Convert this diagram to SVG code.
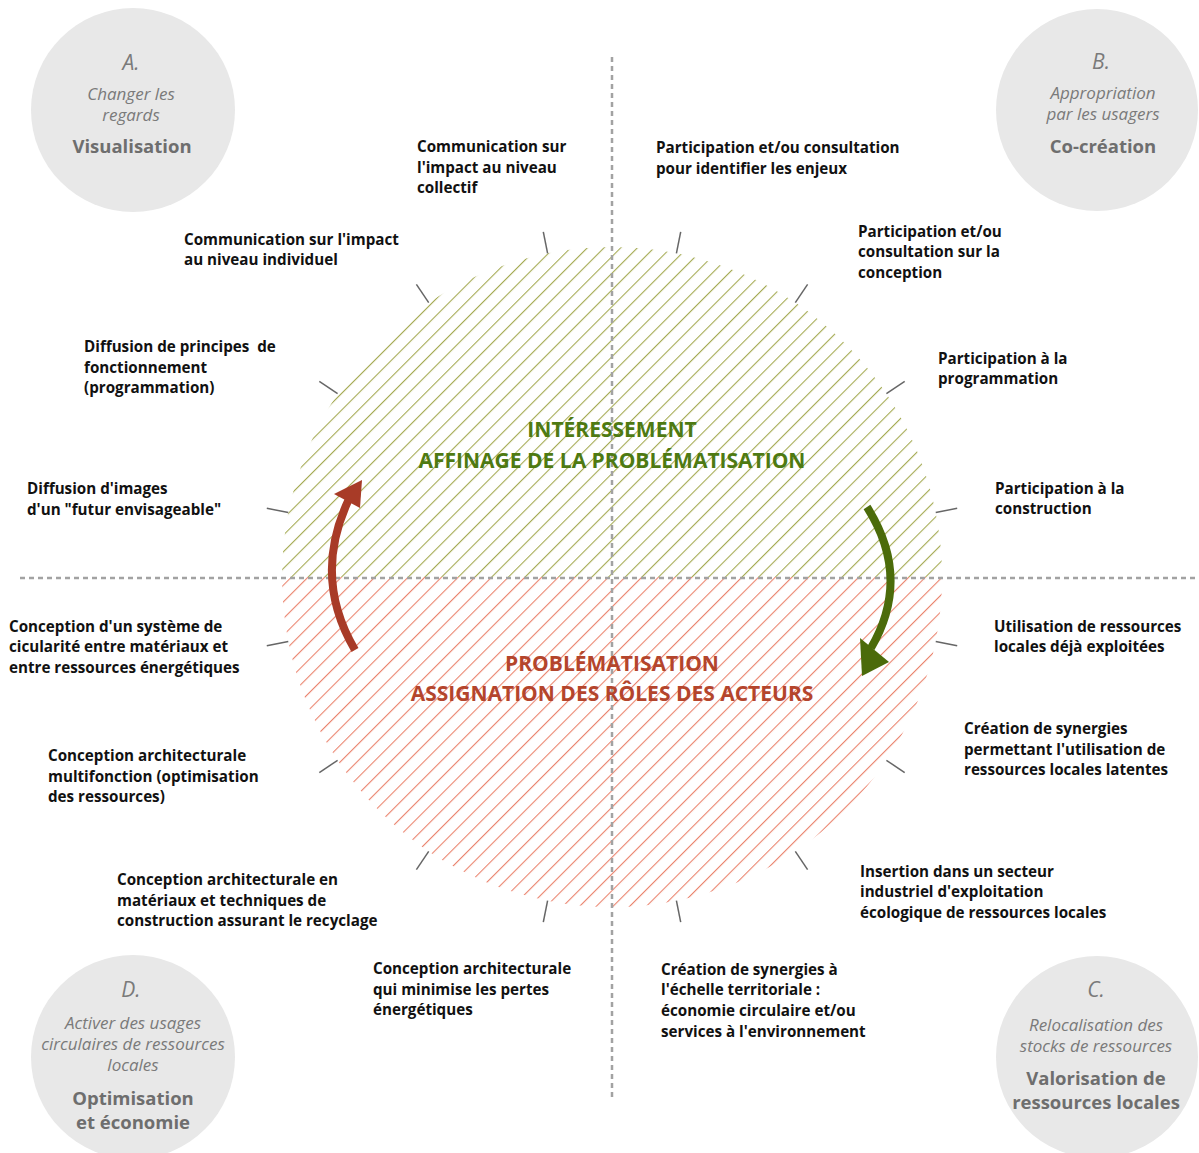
<svg xmlns="http://www.w3.org/2000/svg" width="1199" height="1153" viewBox="0 0 1199 1153">
<style>
.lbl{font-family:"Open Sans","Liberation Sans",sans-serif;font-weight:700;font-size:15.2px;fill:#111}
.cc{fill:#e8e8e8}
.ci{font-family:"Open Sans","Liberation Sans",sans-serif;font-style:italic;fill:#7a7a7a;text-anchor:middle}
.cb{font-family:"Open Sans","Liberation Sans",sans-serif;font-weight:700;fill:#6e6e6e;text-anchor:middle;font-size:18.5px}
.tick{stroke:#666;stroke-width:1.5}
.dash{stroke:#a2a2a2;stroke-width:2.5;stroke-dasharray:5 4;fill:none}
.ttl{font-family:"Open Sans","Liberation Sans",sans-serif;font-weight:700;font-size:21px;text-anchor:middle}
</style>
<defs>
<pattern id="hg" patternUnits="userSpaceOnUse" width="11.8" height="11.8" patternTransform="rotate(45)">
<line x1="0" y1="0" x2="0" y2="11.8" stroke="#a4aa52" stroke-width="2.2"/>
</pattern>
<pattern id="hr" patternUnits="userSpaceOnUse" width="11.8" height="11.8" patternTransform="rotate(45)">
<line x1="0" y1="0" x2="0" y2="11.8" stroke="#ea836d" stroke-width="2.2"/>
</pattern>
<clipPath id="cp"><circle cx="612" cy="577" r="330"/></clipPath>
</defs>
<rect width="1199" height="1153" fill="#fff"/>

<g id="main-circle" clip-path="url(#cp)">
<rect x="280" y="245" width="665" height="332" fill="url(#hg)"/>
<rect x="280" y="577" width="665" height="335" fill="url(#hr)"/>
</g>

<g id="axes">
<line class="dash" x1="20" y1="578" x2="1199" y2="578"/>
<line class="dash" x1="612" y1="57" x2="612" y2="1098"/>
</g>

<g id="title-top">
<text class="ttl" x="612" y="437" fill="#4e7a12">INTÉRESSEMENT</text>
<text class="ttl" x="612" y="468" fill="#4e7a12">AFFINAGE DE LA PROBLÉMATISATION</text>
</g>
<g id="title-bottom">
<text class="ttl" x="612" y="671" fill="#b4452c">PROBLÉMATISATION</text>
<text class="ttl" x="612" y="701" fill="#b4452c">ASSIGNATION DES RÔLES DES ACTEURS</text>
</g>

<g id="connectors">
<line class="tick" x1="547.6" y1="253.3" x2="543.3" y2="231.8"/>
<line class="tick" x1="676.4" y1="253.3" x2="680.7" y2="231.8"/>
<line class="tick" x1="428.7" y1="302.6" x2="416.4" y2="284.3"/>
<line class="tick" x1="795.3" y1="302.6" x2="807.6" y2="284.3"/>
<line class="tick" x1="337.6" y1="393.7" x2="319.3" y2="381.4"/>
<line class="tick" x1="886.4" y1="393.7" x2="904.7" y2="381.4"/>
<line class="tick" x1="288.3" y1="512.6" x2="266.8" y2="508.3"/>
<line class="tick" x1="935.7" y1="512.6" x2="957.2" y2="508.3"/>
<line class="tick" x1="288.3" y1="641.4" x2="266.8" y2="645.7"/>
<line class="tick" x1="935.7" y1="641.4" x2="957.2" y2="645.7"/>
<line class="tick" x1="337.6" y1="760.3" x2="319.3" y2="772.6"/>
<line class="tick" x1="886.4" y1="760.3" x2="904.7" y2="772.6"/>
<line class="tick" x1="428.7" y1="851.4" x2="416.4" y2="869.7"/>
<line class="tick" x1="795.3" y1="851.4" x2="807.6" y2="869.7"/>
<line class="tick" x1="547.6" y1="900.7" x2="543.3" y2="922.2"/>
<line class="tick" x1="676.4" y1="900.7" x2="680.7" y2="922.2"/>
<path d="M355,650 Q312,577 349,499" fill="none" stroke="#a83b27" stroke-width="8"/>
<polygon points="362,480 334,494 360,508" fill="#a83b27"/>
<path d="M867,507 Q912,578 871,648" fill="none" stroke="#4b6b0a" stroke-width="8"/>
<polygon points="862,676 860,638 889,662" fill="#4b6b0a"/>
</g>

<g id="circle-A">
<circle class="cc" cx="133" cy="110" r="102"/>
<text class="ci" x="131" y="70" font-size="21">A.</text>
<text class="ci" x="131" y="100" font-size="17">Changer les</text>
<text class="ci" x="131" y="121" font-size="17">regards</text>
<text class="cb" x="132" y="153">Visualisation</text>
</g>
<g id="circle-B">
<circle class="cc" cx="1097" cy="110" r="101"/>
<text class="ci" x="1101" y="69" font-size="21">B.</text>
<text class="ci" x="1103" y="99" font-size="17">Appropriation</text>
<text class="ci" x="1103" y="120" font-size="17">par les usagers</text>
<text class="cb" x="1103" y="153">Co-création</text>
</g>
<g id="circle-D">
<circle class="cc" cx="133" cy="1057" r="102"/>
<text class="ci" x="131" y="997" font-size="21">D.</text>
<text class="ci" x="133" y="1029" font-size="17">Activer des usages</text>
<text class="ci" x="133" y="1050" font-size="17">circulaires de ressources</text>
<text class="ci" x="133" y="1071" font-size="17">locales</text>
<text class="cb" x="133" y="1105">Optimisation</text>
<text class="cb" x="133" y="1129">et économie</text>
</g>
<g id="circle-C">
<circle class="cc" cx="1097" cy="1057" r="101"/>
<text class="ci" x="1096" y="997" font-size="21">C.</text>
<text class="ci" x="1096" y="1031" font-size="17">Relocalisation des</text>
<text class="ci" x="1096" y="1052" font-size="17">stocks de ressources</text>
<text class="cb" x="1096" y="1085">Valorisation de</text>
<text class="cb" x="1096" y="1109">ressources locales</text>
</g>

<g id="label-1"><text class="lbl" x="417"><tspan x="417" y="152">Communication sur</tspan><tspan x="417" y="173">l'impact au niveau</tspan><tspan x="417" y="193">collectif</tspan></text></g>
<g id="label-2"><text class="lbl"><tspan x="656" y="153">Participation et/ou consultation</tspan><tspan x="656" y="174">pour identifier les enjeux</tspan></text></g>
<g id="label-3"><text class="lbl"><tspan x="184" y="245">Communication sur l'impact</tspan><tspan x="184" y="265">au niveau individuel</tspan></text></g>
<g id="label-4"><text class="lbl"><tspan x="858" y="237">Participation et/ou</tspan><tspan x="858" y="257">consultation sur la</tspan><tspan x="858" y="278">conception</tspan></text></g>
<g id="label-5"><text class="lbl" xml:space="preserve"><tspan x="84" y="352">Diffusion de principes  de</tspan><tspan x="84" y="373">fonctionnement</tspan><tspan x="84" y="393">(programmation)</tspan></text></g>
<g id="label-6"><text class="lbl"><tspan x="938" y="364">Participation à la</tspan><tspan x="938" y="384">programmation</tspan></text></g>
<g id="label-7"><text class="lbl"><tspan x="27" y="494">Diffusion d'images</tspan><tspan x="27" y="515">d'un "futur envisageable"</tspan></text></g>
<g id="label-8"><text class="lbl"><tspan x="995" y="494">Participation à la</tspan><tspan x="995" y="514">construction</tspan></text></g>
<g id="label-9"><text class="lbl"><tspan x="9" y="632">Conception d'un système de</tspan><tspan x="9" y="652">cicularité entre matériaux et</tspan><tspan x="9" y="673">entre ressources énergétiques</tspan></text></g>
<g id="label-10"><text class="lbl"><tspan x="994" y="632">Utilisation de ressources</tspan><tspan x="994" y="652">locales déjà exploitées</tspan></text></g>
<g id="label-11"><text class="lbl"><tspan x="48" y="761">Conception architecturale</tspan><tspan x="48" y="782">multifonction (optimisation</tspan><tspan x="48" y="802">des ressources)</tspan></text></g>
<g id="label-12"><text class="lbl"><tspan x="964" y="734">Création de synergies</tspan><tspan x="964" y="755">permettant l'utilisation de</tspan><tspan x="964" y="775">ressources locales latentes</tspan></text></g>
<g id="label-13"><text class="lbl"><tspan x="117" y="885">Conception architecturale en</tspan><tspan x="117" y="906">matériaux et techniques de</tspan><tspan x="117" y="926">construction assurant le recyclage</tspan></text></g>
<g id="label-14"><text class="lbl"><tspan x="860" y="877">Insertion dans un secteur</tspan><tspan x="860" y="897">industriel d'exploitation</tspan><tspan x="860" y="918">écologique de ressources locales</tspan></text></g>
<g id="label-15"><text class="lbl"><tspan x="373" y="974">Conception architecturale</tspan><tspan x="373" y="995">qui minimise les pertes</tspan><tspan x="373" y="1015">énergétiques</tspan></text></g>
<g id="label-16"><text class="lbl"><tspan x="661" y="975">Création de synergies à</tspan><tspan x="661" y="995">l'échelle territoriale :</tspan><tspan x="661" y="1016">économie circulaire et/ou</tspan><tspan x="661" y="1037">services à l'environnement</tspan></text></g>
</svg>
